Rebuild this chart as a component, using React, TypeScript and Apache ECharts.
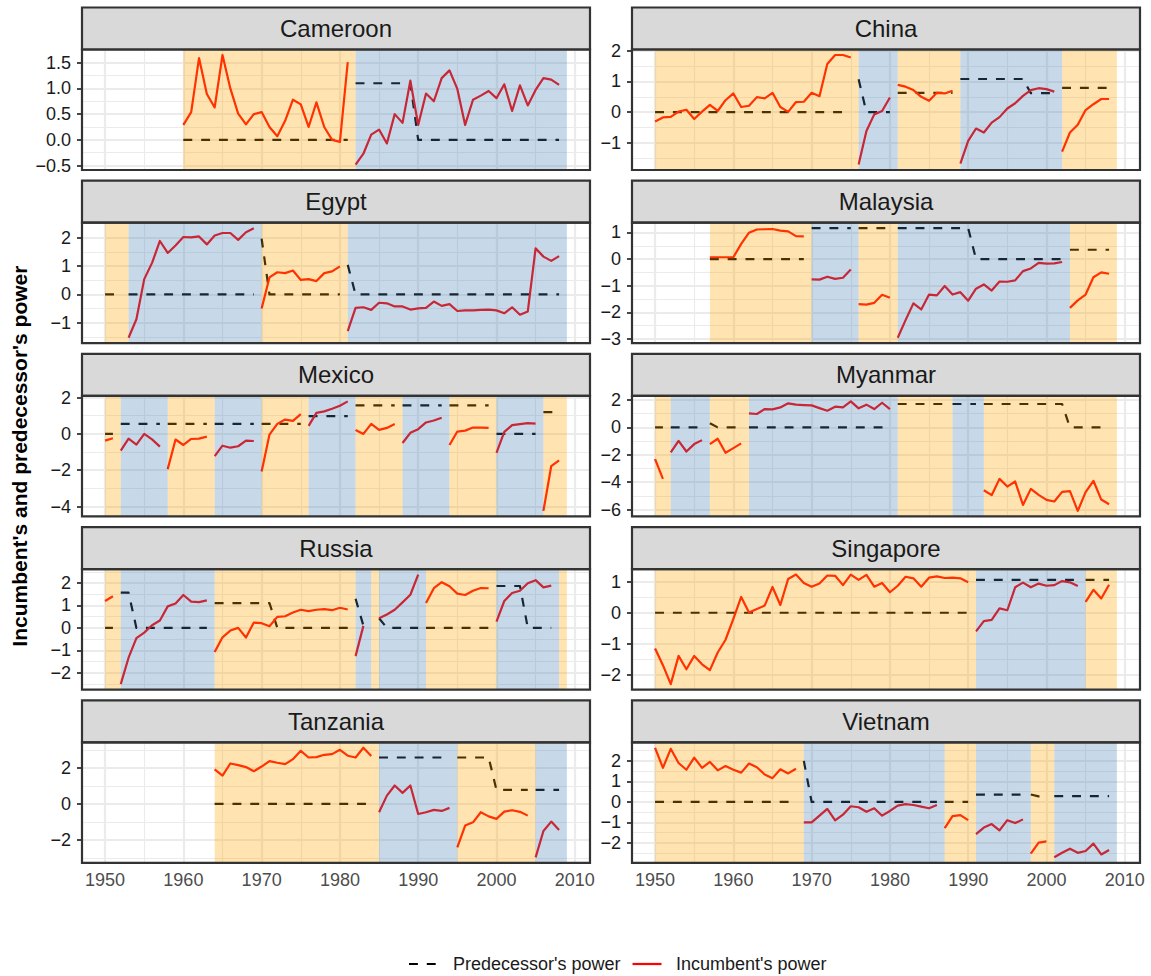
import React, { useEffect, useRef } from "react";
import * as echarts from "echarts";

// Regime kind per period: 0 and 1 alternate between the two shaded fills.
// Each regime runs from its start year to the next start (the last one to LAST_YEAR).
const FIRST_YEAR = 1950;
const LAST_YEAR = 2009;
const X_TICKS = [1950, 1960, 1970, 1980, 1990, 2000, 2010];

const CAMEROON_STARTS = [1960, 1982];
const CAMEROON_KINDS = [0, 1];
const CAMEROON_INCUMBENT = [
  [0.29, 0.54, 1.59, 0.89, 0.63, 1.65, 1.0, 0.51, 0.3, 0.5, 0.54, 0.25, 0.07, 0.37, 0.78, 0.69, 0.25, 0.73, 0.25, 0.0, -0.04, 1.51],
  [-0.48, -0.27, 0.1, 0.2, -0.07, 0.5, 0.33, 1.15, 0.29, 0.9, 0.75, 1.2, 1.35, 0.99, 0.29, 0.78, 0.86, 0.95, 0.81, 1.08, 0.56, 1.06, 0.67, 0.97, 1.2, 1.17, 1.07],
];
const CAMEROON_PREDECESSOR = [
  [0, 0, 0, 0, 0, 0, 0, 0, 0, 0, 0, 0, 0, 0, 0, 0, 0, 0, 0, 0, 0, 0],
  [1.1, 1.1, 1.1, 1.1, 1.1, 1.1, 1.1, 1.1, 0, 0, 0, 0, 0, 0, 0, 0, 0, 0, 0, 0, 0, 0, 0, 0, 0, 0, 0],
];
const CAMEROON_TICKS = [-0.5, 0, 0.5, 1, 1.5];

const CHINA_STARTS = [1950, 1976, 1981, 1989, 2002];
const CHINA_KINDS = [0, 1, 0, 1, 0];
const CHINA_INCUMBENT = [
  [-0.3, -0.17, -0.15, 0.02, 0.08, -0.22, 0.02, 0.24, 0.04, 0.39, 0.61, 0.17, 0.21, 0.49, 0.45, 0.63, 0.17, 0.01, 0.33, 0.34, 0.63, 0.52, 1.57, 1.86, 1.86, 1.78],
  [-1.7, -0.61, -0.07, 0.04, 0.48],
  [0.89, 0.83, 0.72, 0.5, 0.37, 0.63, 0.61, 0.7],
  [-1.67, -0.93, -0.53, -0.66, -0.34, -0.16, 0.12, 0.29, 0.53, 0.72, 0.78, 0.75, 0.67],
  [-1.28, -0.66, -0.41, 0.07, 0.26, 0.43, 0.43],
];
const CHINA_PREDECESSOR = [
  [0, 0, 0, 0, 0, 0, 0, 0, 0, 0, 0, 0, 0, 0, 0, 0, 0, 0, 0, 0, 0, 0, 0, 0, 0, 0],
  [1.07, 0, 0, 0, 0],
  [0.63, 0.63, 0.63, 0.63, 0.63, 0.63, 0.63, 0.63],
  [1.08, 1.08, 1.08, 1.08, 1.08, 1.08, 1.08, 1.08, 1.08, 0.62, 0.62, 0.62, 0.62],
  [0.79, 0.79, 0.79, 0.79, 0.79, 0.79, 0.79],
];
const CHINA_TICKS = [-1, 0, 1, 2];

const EGYPT_STARTS = [1950, 1953, 1970, 1981];
const EGYPT_KINDS = [0, 1, 0, 1];
const EGYPT_INCUMBENT = [
  [],
  [-1.52, -0.87, 0.54, 1.11, 1.88, 1.46, 1.72, 2.02, 2.01, 2.04, 1.76, 2.07, 2.16, 2.16, 1.92, 2.19, 2.33],
  [-0.49, 0.6, 0.78, 0.75, 0.84, 0.51, 0.54, 0.47, 0.75, 0.81, 0.99],
  [-1.29, -0.47, -0.45, -0.54, -0.29, -0.31, -0.42, -0.42, -0.53, -0.49, -0.47, -0.25, -0.4, -0.34, -0.58, -0.56, -0.56, -0.54, -0.53, -0.56, -0.66, -0.45, -0.71, -0.6, 1.62, 1.33, 1.18, 1.35],
];
const EGYPT_PREDECESSOR = [
  [0, 0, 0],
  [0, 0, 0, 0, 0, 0, 0, 0, 0, 0, 0, 0, 0, 0, 0, 0, 0],
  [1.96, 0, 0, 0, 0, 0, 0, 0, 0, 0, 0],
  [1.04, 0, 0, 0, 0, 0, 0, 0, 0, 0, 0, 0, 0, 0, 0, 0, 0, 0, 0, 0, 0, 0, 0, 0, 0, 0, 0, 0],
];
const EGYPT_TICKS = [-1, 0, 1, 2];

const MALAYSIA_STARTS = [1957, 1970, 1976, 1981, 2003];
const MALAYSIA_KINDS = [0, 1, 0, 1, 0];
const MALAYSIA_INCUMBENT = [
  [0.07, 0.07, 0.07, 0.07, 0.57, 0.99, 1.11, 1.12, 1.13, 1.07, 1.04, 0.86, 0.85],
  [-0.76, -0.77, -0.66, -0.74, -0.7, -0.39],
  [-1.69, -1.71, -1.64, -1.34, -1.45],
  [-2.95, -2.29, -1.66, -1.89, -1.33, -1.36, -1.01, -1.33, -1.24, -1.56, -1.11, -0.95, -1.18, -0.84, -0.85, -0.8, -0.45, -0.35, -0.14, -0.17, -0.16, -0.11],
  [-1.83, -1.55, -1.33, -0.68, -0.5, -0.55],
];
const MALAYSIA_PREDECESSOR = [
  [0, 0, 0, 0, 0, 0, 0, 0, 0, 0, 0, 0, 0],
  [1.16, 1.16, 1.16, 1.16, 1.16, 1.16],
  [1.16, 1.16, 1.16, 1.16, 1.16],
  [1.16, 1.16, 1.16, 1.16, 1.16, 1.16, 1.16, 1.16, 1.16, 1.16, 0, 0, 0, 0, 0, 0, 0, 0, 0, 0, 0, 0],
  [0.35, 0.35, 0.35, 0.35, 0.35, 0.35],
];
const MALAYSIA_TICKS = [-3, -2, -1, 0, 1];

const MEXICO_STARTS = [1950, 1952, 1958, 1964, 1970, 1976, 1982, 1988, 1994, 2000, 2006];
const MEXICO_KINDS = [0, 1, 0, 1, 0, 1, 0, 1, 0, 1, 0];
const MEXICO_INCUMBENT = [
  [-0.37, -0.24],
  [-0.92, -0.26, -0.59, 0.0, -0.3, -0.7],
  [-1.94, -0.31, -0.61, -0.28, -0.26, -0.15],
  [-1.22, -0.65, -0.76, -0.68, -0.37, -0.39],
  [-2.07, -0.04, 0.55, 0.79, 0.72, 1.09],
  [0.44, 1.16, 1.24, 1.38, 1.55, 1.79],
  [0.22, 0.0, 0.55, 0.22, 0.33, 0.54],
  [-0.5, 0.06, 0.26, 0.63, 0.74, 0.89],
  [-0.61, 0.13, 0.18, 0.35, 0.35, 0.33],
  [-1.05, 0.11, 0.48, 0.54, 0.59, 0.57],
  [-4.24, -1.77, -1.46],
];
const MEXICO_PREDECESSOR = [
  [0, 0],
  [0.55, 0.55, 0.55, 0.55, 0.55, 0.55],
  [0.55, 0.55, 0.55, 0.55, 0.55, 0.55],
  [0.55, 0.55, 0.55, 0.55, 0.55, 0.55],
  [0.55, 0.55, 0.55, 0.55, 0.55, 0.55],
  [0.98, 0.98, 0.98, 0.98, 0.98, 0.98],
  [1.57, 1.57, 1.57, 1.57, 1.57, 1.57],
  [1.57, 1.57, 1.57, 1.57, 1.57, 1.57],
  [1.57, 1.57, 1.57, 1.57, 1.57, 1.57],
  [0, 0, 0, 0, 0, 0],
  [1.2, 1.2, 1.2],
];
const MEXICO_TICKS = [-4, -2, 0, 2];

const MYANMAR_STARTS = [1950, 1952, 1957, 1962, 1981, 1988, 1992];
const MYANMAR_KINDS = [0, 1, 0, 1, 0, 1, 0];
const MYANMAR_INCUMBENT = [
  [-2.32, -3.76],
  [-1.83, -0.98, -1.76, -1.22, -0.93],
  [-1.22, -0.83, -1.85, -1.51, -1.17],
  [1.02, 0.98, 1.34, 1.32, 1.46, 1.76, 1.66, 1.63, 1.61, 1.41, 1.22, 1.51, 1.46, 1.9, 1.39, 1.66, 1.34, 1.8, 1.34],
  [],
  [],
  [-4.59, -4.95, -3.76, -4.32, -3.95, -5.66, -4.49, -4.93, -5.29, -5.41, -4.71, -4.66, -6.1, -4.73, -3.9, -5.27, -5.61],
];
const MYANMAR_PREDECESSOR = [
  [0, 0],
  [0, 0, 0, 0, 0],
  [0.3, 0, 0, 0, 0],
  [0, 0, 0, 0, 0, 0, 0, 0, 0, 0, 0, 0, 0, 0, 0, 0, 0, 0, 0],
  [1.71, 1.71, 1.71, 1.71, 1.71, 1.71, 1.71],
  [1.71, 1.71, 1.71, 1.71],
  [1.71, 1.71, 1.71, 1.71, 1.71, 1.71, 1.71, 1.71, 1.71, 1.71, 1.71, 0, 0, 0, 0, 0, 0],
];
const MYANMAR_TICKS = [-6, -4, -2, 0, 2];

const RUSSIA_STARTS = [1950, 1952, 1964, 1982, 1984, 1985, 1991, 2000, 2008];
const RUSSIA_KINDS = [0, 1, 0, 1, 0, 1, 0, 1, 0];
const RUSSIA_INCUMBENT = [
  [1.2, 1.41],
  [-2.51, -1.33, -0.46, -0.21, 0.12, 0.33, 0.96, 1.09, 1.47, 1.17, 1.15, 1.23],
  [-1.08, -0.42, -0.12, 0.0, -0.43, 0.24, 0.21, 0.07, 0.49, 0.52, 0.69, 0.81, 0.75, 0.81, 0.84, 0.79, 0.9, 0.82],
  [-1.26, 0.09],
  [],
  [0.43, 0.6, 0.81, 1.14, 1.48, 2.38],
  [1.11, 1.77, 2.04, 1.86, 1.53, 1.47, 1.66, 1.78, 1.77],
  [0.28, 1.2, 1.56, 1.66, 1.99, 2.13, 1.81, 1.89],
  [],
];
const RUSSIA_PREDECESSOR = [
  [0, 0],
  [1.57, 1.57, 0, 0, 0, 0, 0, 0, 0, 0, 0, 0],
  [1.11, 1.11, 1.11, 1.11, 1.11, 1.11, 1.11, 1.11, 0, 0, 0, 0, 0, 0, 0, 0, 0, 0],
  [1.3, 0.1],
  [],
  [0.43, 0, 0, 0, 0, 0],
  [0, 0, 0, 0, 0, 0, 0, 0, 0],
  [1.87, 1.87, 1.87, 1.87, 0, 0, 0, 0],
  [],
];
const RUSSIA_TICKS = [-2, -1, 0, 1, 2];

const SINGAPORE_STARTS = [1950, 1991, 2005];
const SINGAPORE_KINDS = [0, 1, 0];
const SINGAPORE_INCUMBENT = [
  [-1.15, -1.69, -2.3, -1.39, -1.82, -1.39, -1.66, -1.85, -1.28, -0.87, -0.2, 0.51, 0.01, 0.12, 0.23, 0.83, 0.25, 1.09, 1.23, 0.96, 0.84, 0.94, 1.2, 1.19, 0.89, 1.23, 1.06, 1.22, 0.84, 0.96, 0.66, 0.87, 1.16, 1.11, 0.84, 1.13, 1.17, 1.12, 1.13, 1.11, 0.98],
  [-0.6, -0.27, -0.23, 0.14, 0.08, 0.82, 0.97, 0.82, 0.94, 0.87, 0.89, 1.02, 0.98, 0.86],
  [0.35, 0.74, 0.46, 0.9],
];
const SINGAPORE_PREDECESSOR = [
  [0, 0, 0, 0, 0, 0, 0, 0, 0, 0, 0, 0, 0, 0, 0, 0, 0, 0, 0, 0, 0, 0, 0, 0, 0, 0, 0, 0, 0, 0, 0, 0, 0, 0, 0, 0, 0, 0, 0, 0, 0],
  [1.06, 1.06, 1.06, 1.06, 1.06, 1.06, 1.06, 1.06, 1.06, 1.06, 1.06, 1.06, 1.06, 1.06],
  [1.06, 1.06, 1.06, 1.06],
];
const SINGAPORE_TICKS = [-2, -1, 0, 1];

const TANZANIA_STARTS = [1964, 1985, 1995, 2005];
const TANZANIA_KINDS = [0, 1, 0, 1];
const TANZANIA_INCUMBENT = [
  [1.91, 1.57, 2.24, 2.15, 2.04, 1.81, 2.07, 2.37, 2.28, 2.2, 2.48, 2.94, 2.57, 2.59, 2.72, 2.76, 3.0, 2.67, 2.57, 3.11, 2.65],
  [-0.46, 0.46, 1.02, 0.61, 1.02, -0.56, -0.46, -0.33, -0.39, -0.22],
  [-2.41, -1.2, -1.02, -0.46, -0.69, -0.83, -0.43, -0.35, -0.44, -0.65],
  [-2.96, -1.5, -0.98, -1.44],
];
const TANZANIA_PREDECESSOR = [
  [0, 0, 0, 0, 0, 0, 0, 0, 0, 0, 0, 0, 0, 0, 0, 0, 0, 0, 0, 0, 0],
  [2.57, 2.57, 2.57, 2.57, 2.57, 2.57, 2.57, 2.57, 2.57, 2.57],
  [2.57, 2.57, 2.57, 2.57, 2.57, 0.78, 0.78, 0.78, 0.78, 0.78],
  [0.78, 0.78, 0.78, 0.78],
];
const TANZANIA_TICKS = [-2, 0, 2];

const VIETNAM_STARTS = [1950, 1969, 1987, 1991, 1998, 2001];
const VIETNAM_KINDS = [0, 1, 0, 1, 0, 1];
const VIETNAM_INCUMBENT = [
  [2.64, 1.66, 2.59, 1.9, 1.57, 2.16, 1.66, 1.95, 1.54, 1.75, 1.57, 1.43, 1.87, 1.69, 1.34, 1.16, 1.59, 1.39, 1.62],
  [-1.0, -1.0, -0.67, -0.34, -0.9, -0.62, -0.21, -0.26, -0.48, -0.31, -0.67, -0.44, -0.18, -0.11, -0.15, -0.23, -0.31, -0.15],
  [-1.28, -0.69, -0.64, -0.89],
  [-1.57, -1.25, -1.08, -1.39, -0.89, -1.03, -0.85],
  [-2.52, -1.98, -1.92],
  [-2.7, -2.48, -2.28, -2.48, -2.39, -2.03, -2.56, -2.34],
];
const VIETNAM_PREDECESSOR = [
  [0, 0, 0, 0, 0, 0, 0, 0, 0, 0, 0, 0, 0, 0, 0, 0, 0, 0, 0],
  [2.0, 0, 0, 0, 0, 0, 0, 0, 0, 0, 0, 0, 0, 0, 0, 0, 0, 0],
  [0, 0, 0, 0],
  [0.36, 0.36, 0.36, 0.36, 0.36, 0.36, 0.36],
  [0.36, 0.27, 0.27],
  [0.28, 0.28, 0.28, 0.28, 0.28, 0.28, 0.28, 0.28],
];
const VIETNAM_TICKS = [-2, -1, 0, 1, 2];

type Country = {
  name: string;
  starts: number[];
  kinds: number[];
  incumbent: number[][];
  predecessor: number[][];
  ticks: number[];
  digits: number;
};

const COUNTRIES: Country[] = [
  { name: "Cameroon", starts: CAMEROON_STARTS, kinds: CAMEROON_KINDS, incumbent: CAMEROON_INCUMBENT, predecessor: CAMEROON_PREDECESSOR, ticks: CAMEROON_TICKS, digits: 1 },
  { name: "China", starts: CHINA_STARTS, kinds: CHINA_KINDS, incumbent: CHINA_INCUMBENT, predecessor: CHINA_PREDECESSOR, ticks: CHINA_TICKS, digits: 0 },
  { name: "Egypt", starts: EGYPT_STARTS, kinds: EGYPT_KINDS, incumbent: EGYPT_INCUMBENT, predecessor: EGYPT_PREDECESSOR, ticks: EGYPT_TICKS, digits: 0 },
  { name: "Malaysia", starts: MALAYSIA_STARTS, kinds: MALAYSIA_KINDS, incumbent: MALAYSIA_INCUMBENT, predecessor: MALAYSIA_PREDECESSOR, ticks: MALAYSIA_TICKS, digits: 0 },
  { name: "Mexico", starts: MEXICO_STARTS, kinds: MEXICO_KINDS, incumbent: MEXICO_INCUMBENT, predecessor: MEXICO_PREDECESSOR, ticks: MEXICO_TICKS, digits: 0 },
  { name: "Myanmar", starts: MYANMAR_STARTS, kinds: MYANMAR_KINDS, incumbent: MYANMAR_INCUMBENT, predecessor: MYANMAR_PREDECESSOR, ticks: MYANMAR_TICKS, digits: 0 },
  { name: "Russia", starts: RUSSIA_STARTS, kinds: RUSSIA_KINDS, incumbent: RUSSIA_INCUMBENT, predecessor: RUSSIA_PREDECESSOR, ticks: RUSSIA_TICKS, digits: 0 },
  { name: "Singapore", starts: SINGAPORE_STARTS, kinds: SINGAPORE_KINDS, incumbent: SINGAPORE_INCUMBENT, predecessor: SINGAPORE_PREDECESSOR, ticks: SINGAPORE_TICKS, digits: 0 },
  { name: "Tanzania", starts: TANZANIA_STARTS, kinds: TANZANIA_KINDS, incumbent: TANZANIA_INCUMBENT, predecessor: TANZANIA_PREDECESSOR, ticks: TANZANIA_TICKS, digits: 0 },
  { name: "Vietnam", starts: VIETNAM_STARTS, kinds: VIETNAM_KINDS, incumbent: VIETNAM_INCUMBENT, predecessor: VIETNAM_PREDECESSOR, ticks: VIETNAM_TICKS, digits: 0 },
];

const LEGEND_LABELS = ["Predecessor's power", "Incumbent's power"];
const Y_TITLE = "Incumbent's and predecessor's power";

// Layout (pixels)
const FONT = "Liberation Sans, Arial, Helvetica, sans-serif";
const COL_LEFT = [82, 632];
const PANEL_W = 508;
const ROW_TOP = 7.5;
const ROW_STEP = 173.2;
const STRIP_H = 42;
const PANEL_H = 120.5;
const LINE_W = 2.2;
const AXIS_FONT = 18;
const KIND_FILL = ["rgba(255,165,0,0.3)", "rgba(70,130,180,0.3)"];
const GRID_COLOR = "#EBEBEB";
const BORDER = "#333333";

function fmt(v: number, digits: number) {
  const s = Math.abs(v).toFixed(digits);
  return (v < -1e-9 ? "\u2212" : "") + s;
}

function minorBreaks(majors: number[], lo: number, hi: number) {
  const step = majors[1] - majors[0];
  const ext = [majors[0] - step, ...majors, majors[majors.length - 1] + step];
  const out: number[] = [];
  for (let i = 0; i + 1 < ext.length; i++) {
    const m = (ext[i] + ext[i + 1]) / 2;
    if (m > lo && m < hi) out.push(m);
  }
  return out;
}

function buildOption() {
  const xSpan = LAST_YEAR - FIRST_YEAR;
  const xLo = FIRST_YEAR - 0.05 * xSpan;
  const xHi = LAST_YEAR + 0.05 * xSpan;
  const xMinor = minorBreaks(X_TICKS, xLo, xHi);

  const grids: any[] = [];
  const xAxes: any[] = [];
  const yAxes: any[] = [];
  const series: any[] = [];
  const graphics: any[] = [];

  COUNTRIES.forEach((c, i) => {
    const col = i % 2;
    const row = Math.floor(i / 2);
    const top = ROW_TOP + row * ROW_STEP;
    const left = COL_LEFT[col];
    const panelTop = top + STRIP_H;
    const bottomRow = row === 4;

    const all = [...c.incumbent.flat(), ...c.predecessor.flat()];
    const lo0 = Math.min(...all);
    const hi0 = Math.max(...all);
    const pad = 0.05 * (hi0 - lo0);
    const yLo = lo0 - pad;
    const yHi = hi0 + pad;
    const yMinor = minorBreaks(c.ticks, yLo, yHi);

    grids.push({ left, top: panelTop, width: PANEL_W, height: PANEL_H, show: false });

    xAxes.push({
      gridIndex: i,
      type: "value",
      min: xLo,
      max: xHi,
      splitLine: { show: false },
      axisLine: { show: false },
      axisTick: {
        show: bottomRow,
        customValues: X_TICKS,
        length: 5,
        lineStyle: { color: BORDER, width: 1.8 },
      },
      axisLabel: {
        show: bottomRow,
        customValues: X_TICKS,
        margin: 8,
        color: "#4D4D4D",
        fontSize: AXIS_FONT,
        fontFamily: FONT,
        formatter: (v: number) => String(Math.round(v)),
      },
    });

    yAxes.push({
      gridIndex: i,
      type: "value",
      min: yLo,
      max: yHi,
      splitLine: { show: false },
      axisLine: { show: false },
      axisTick: {
        show: true,
        customValues: c.ticks,
        length: 5,
        lineStyle: { color: BORDER, width: 1.8 },
      },
      axisLabel: {
        show: true,
        customValues: c.ticks,
        margin: 11,
        color: "#1A1A1A",
        fontSize: AXIS_FONT,
        fontFamily: FONT,
        formatter: (v: number) => fmt(v, c.digits),
      },
    });

    // background grid lines
    const gridLines: any[] = [];
    X_TICKS.forEach((v) => gridLines.push({ xAxis: v, lineStyle: { color: GRID_COLOR, width: 2.2, type: "solid" } }));
    xMinor.forEach((v) => gridLines.push({ xAxis: v, lineStyle: { color: GRID_COLOR, width: 1.1, type: "solid" } }));
    c.ticks.forEach((v) => gridLines.push({ yAxis: v, lineStyle: { color: GRID_COLOR, width: 2.2, type: "solid" } }));
    yMinor.forEach((v) => gridLines.push({ yAxis: v, lineStyle: { color: GRID_COLOR, width: 1.1, type: "solid" } }));
    series.push({
      type: "line",
      xAxisIndex: i,
      yAxisIndex: i,
      data: [],
      silent: true,
      z: 1,
      markLine: {
        silent: true,
        z: 1,
        symbol: ["none", "none"],
        label: { show: false },
        emphasis: { disabled: true },
        animation: false,
        data: gridLines,
      },
    });

    const ends = c.starts.map((s, k) => (k + 1 < c.starts.length ? c.starts[k + 1] : LAST_YEAR));

    c.starts.forEach((s, k) => {
      const pred = c.predecessor[k].map((v, j) => [s + j, v]);
      const inc = c.incumbent[k].map((v, j) => [s + j, v]);
      if (pred.length > 1) {
        series.push({
          type: "line",
          name: LEGEND_LABELS[0],
          xAxisIndex: i,
          yAxisIndex: i,
          data: pred,
          symbol: "none",
          silent: true,
          z: 5,
          lineStyle: { color: "#000000", width: LINE_W, type: [8.9, 8.9], cap: "butt", join: "round" },
          emphasis: { disabled: true },
        });
      }
      if (inc.length > 1) {
        series.push({
          type: "line",
          name: LEGEND_LABELS[1],
          xAxisIndex: i,
          yAxisIndex: i,
          data: inc,
          symbol: "none",
          silent: true,
          z: 6,
          lineStyle: { color: "#FF0000", width: LINE_W, cap: "butt", join: "round" },
          emphasis: { disabled: true },
        });
      }
    });

    // regime shading, laid over the lines
    series.push({
      type: "line",
      xAxisIndex: i,
      yAxisIndex: i,
      data: [],
      silent: true,
      z: 20,
      markArea: {
        silent: true,
        z: 20,
        label: { show: false },
        emphasis: { disabled: true },
        animation: false,
        data: c.starts.map((s, k) => [
          { xAxis: s, itemStyle: { color: KIND_FILL[c.kinds[k]], borderWidth: 0 } },
          { xAxis: ends[k] },
        ]),
      },
    });

    // strip
    graphics.push({
      type: "rect",
      z: 100,
      shape: { x: left, y: top, width: PANEL_W, height: STRIP_H },
      style: { fill: "#D9D9D9", stroke: BORDER, lineWidth: LINE_W },
      silent: true,
    });
    graphics.push({
      type: "text",
      z: 101,
      x: left + PANEL_W / 2,
      y: top + STRIP_H / 2,
      style: {
        text: c.name,
        fill: "#1A1A1A",
        font: `24px ${FONT}`,
        align: "center",
        verticalAlign: "middle",
      },
      silent: true,
    });
    // panel border
    graphics.push({
      type: "rect",
      z: 100,
      shape: { x: left, y: panelTop, width: PANEL_W, height: PANEL_H },
      style: { fill: "none", stroke: BORDER, lineWidth: LINE_W },
      silent: true,
    });
  });

  const firstTop = ROW_TOP + STRIP_H;
  const lastBottom = ROW_TOP + 4 * ROW_STEP + STRIP_H + PANEL_H;
  graphics.push({
    type: "text",
    z: 100,
    x: 19,
    y: (firstTop + lastBottom) / 2,
    rotation: Math.PI / 2,
    style: {
      text: Y_TITLE,
      fill: "#000000",
      font: `bold 21px ${FONT}`,
      align: "center",
      verticalAlign: "middle",
    },
    silent: true,
  });

  // legend
  const ly = 964;
  graphics.push({
    type: "line",
    z: 100,
    shape: { x1: 409, y1: ly, x2: 438, y2: ly },
    style: { stroke: "#000000", lineWidth: LINE_W, lineDash: [8.9, 8.9] },
    silent: true,
  });
  graphics.push({
    type: "text",
    z: 100,
    x: 453,
    y: ly,
    style: { text: LEGEND_LABELS[0], fill: "#1A1A1A", font: `18px ${FONT}`, align: "left", verticalAlign: "middle" },
    silent: true,
  });
  graphics.push({
    type: "line",
    z: 100,
    shape: { x1: 632.5, y1: ly, x2: 661.5, y2: ly },
    style: { stroke: "#FF0000", lineWidth: LINE_W },
    silent: true,
  });
  graphics.push({
    type: "text",
    z: 100,
    x: 676,
    y: ly,
    style: { text: LEGEND_LABELS[1], fill: "#1A1A1A", font: `18px ${FONT}`, align: "left", verticalAlign: "middle" },
    silent: true,
  });

  return {
    animation: false,
    backgroundColor: "#FFFFFF",
    grid: grids,
    xAxis: xAxes,
    yAxis: yAxes,
    series,
    graphic: graphics,
  };
}

export default function App() {
  const ref = useRef<HTMLDivElement>(null);
  useEffect(() => {
    if (!ref.current) return;
    const chart = echarts.init(ref.current, undefined, { renderer: "svg" });
    chart.setOption(buildOption() as any);
    return () => chart.dispose();
  }, []);
  return (
    <div
      ref={ref}
      style={{ position: "fixed", left: 0, top: 0, width: 1151, height: 976, background: "#FFFFFF" }}
    />
  );
}
